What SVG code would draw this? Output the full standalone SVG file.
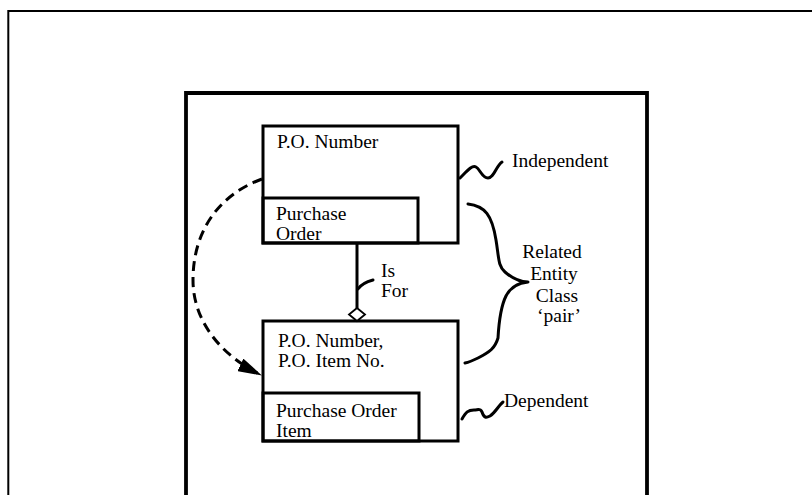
<svg xmlns="http://www.w3.org/2000/svg" width="812" height="495" viewBox="0 0 812 495">
<style>
.t{font-family:"Liberation Serif","Times New Roman",serif;font-size:19.5px;fill:#000}
.m{text-anchor:middle}
.box{fill:none;stroke:#000;stroke-width:3}
.ln{fill:none;stroke:#000;stroke-width:3;stroke-linecap:round;stroke-linejoin:round}
</style>
<defs>
<marker id="ah2" viewBox="0 0 24 14" refX="23" refY="7" markerWidth="24" markerHeight="14" orient="auto" markerUnits="userSpaceOnUse">
<path d="M0,0 L24,7 L0,14 Z" fill="#000"/>
</marker>
</defs>
<rect width="812" height="495" fill="#fff"/>
<g id="frames">
<path d="M8.3,495 L8.3,11 L812,11" fill="none" stroke="#000" stroke-width="2"/>
<path d="M186,495 L186,93 L647,93 L647,495" fill="none" stroke="#000" stroke-width="3.8"/>
</g>
<g id="node-purchase-order">
<rect class="box" x="263" y="126" width="195" height="117"/>
<rect class="box" x="263" y="198" width="155" height="45"/>
<text class="t" x="277" y="148">P.O. Number</text>
<text class="t" x="276" y="220">Purchase</text>
<text class="t" x="276" y="240">Order</text>
</g>
<g id="node-purchase-order-item">
<rect class="box" x="263" y="321" width="195" height="120"/>
<rect class="box" x="263" y="393" width="156" height="48"/>
<text class="t" x="278" y="347">P.O. Number,</text>
<text class="t" x="278" y="367">P.O. Item No.</text>
<text class="t" x="276" y="417">Purchase Order</text>
<text class="t" x="276" y="437">Item</text>
</g>
<g id="connectors">
<line x1="357" y1="243" x2="357" y2="308" stroke="#000" stroke-width="3"/>
<path d="M357,308 L365,314.5 L357,321 L349,314.5 Z" fill="#fff" stroke="#000" stroke-width="1.8"/>
<path class="ln" d="M358,289 Q362,283 373,280" stroke-width="2.5"/>
<text class="t" x="381" y="277">Is</text>
<text class="t" x="381" y="297">For</text>
<path d="M262,179 C218,195 193,232 193,280 C193,322 222,356 261,375" fill="none" stroke="#000" stroke-width="3" stroke-dasharray="10,6" marker-end="url(#ah2)"/>
<path class="ln" d="M460,178 C468,170 472,165 476,167 C480,169 482,178 488,178 C494,178 496,166 502,162" stroke-width="2.5"/>
<text class="t" x="512" y="167">Independent</text>
<path class="ln" d="M468,204 C485,206 492,215 496,240 C499,258 498,266 505,272 C512,278 520,282 528,282 C518,283 510,288 506,296 C501,306 499,320 498,338 C495,348 490,352 478,358 C474,360 470,362 465,363" stroke-width="2.8"/>
<text class="t m" x="552" y="258">Related</text>
<text class="t m" x="554" y="280">Entity</text>
<text class="t m" x="557" y="302">Class</text>
<text class="t m" x="559" y="322">‘pair’</text>
<path class="ln" d="M462,419 C466,412 468,410 474,410 C478,410 480,408 482,412 C484,418 486,418 490,416 C496,412 498,406 503,402" stroke-width="2.5"/>
<text class="t" x="504" y="407">Dependent</text>
</g>
</svg>
